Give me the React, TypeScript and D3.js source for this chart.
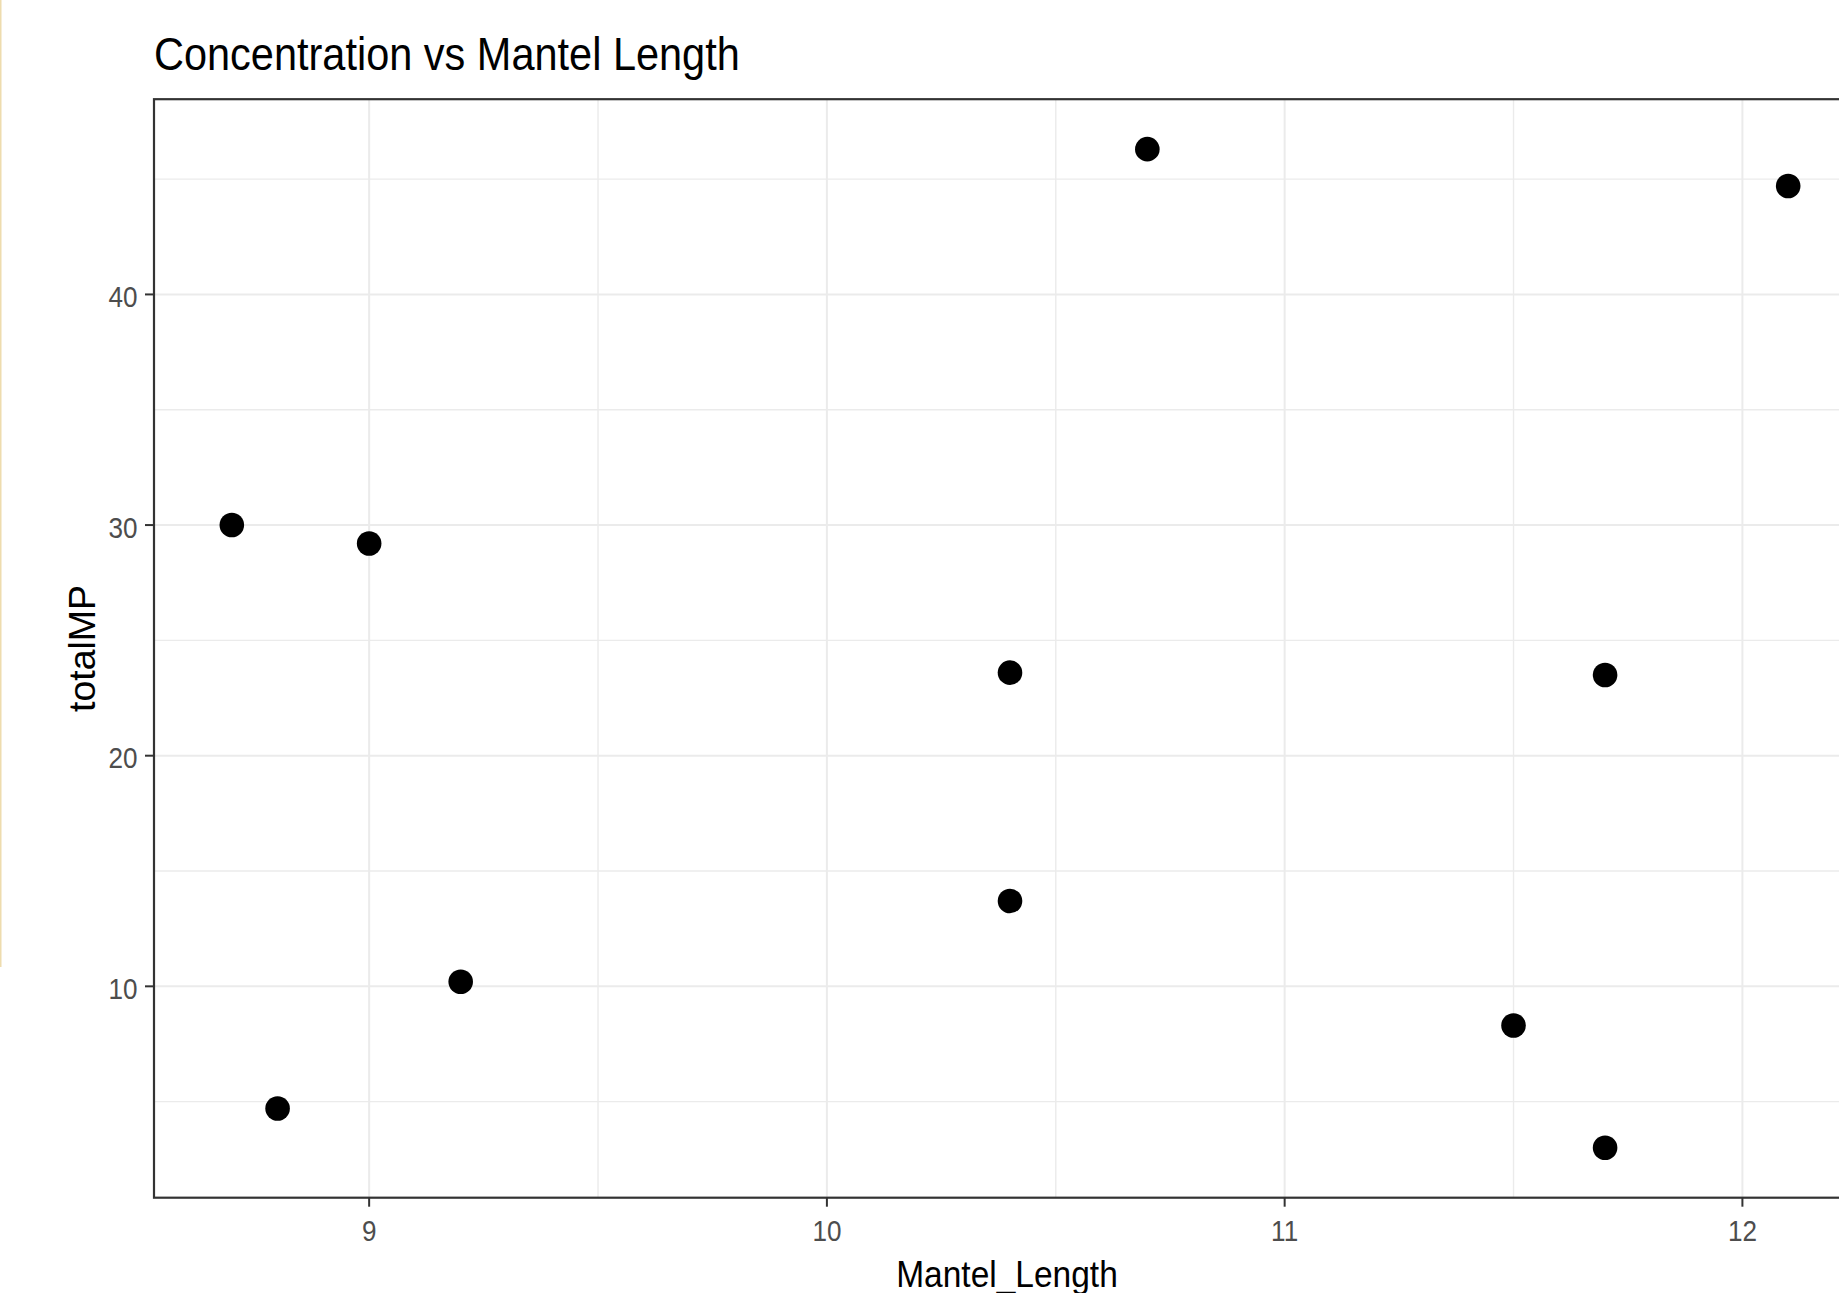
import React from "react";
import * as d3 from "d3";

// Data
const mantelLength = [8.7, 9.0, 8.8, 9.2, 10.4, 10.4, 10.7, 11.5, 11.7, 11.7, 12.1];
const totalMP = [30.0, 29.2, 4.7, 10.2, 23.6, 13.7, 46.3, 8.3, 23.5, 3.0, 44.7];
const xTicks = [9, 10, 11, 12];
const xMinor = [9.5, 10.5, 11.5];
const yTicks = [10, 20, 30, 40];
const yMinor = [5, 15, 25, 35, 45];
const titleText = "Concentration vs Mantel Length";
const xLabel = "Mantel_Length";
const yLabel = "totalMP";

const W = 1839;
const H = 1293;
const FONT = "'Liberation Sans', Arial, Helvetica, sans-serif";

function expand(vals: number[]): [number, number] {
  const mn = d3.min(vals) as number;
  const mx = d3.max(vals) as number;
  const s = mx - mn;
  return [mn - 0.05 * s, mx + 0.05 * s];
}

export default function App() {
  const panel = { left: 154, right: 1866, top: 99.2, bottom: 1197.7 };
  const x = d3.scaleLinear().domain(expand(mantelLength)).range([panel.left, panel.right]);
  const y = d3.scaleLinear().domain(expand(totalMP)).range([panel.bottom, panel.top]);
  const pts = mantelLength.map((v, i) => ({ x: v, y: totalMP[i] }));

  return (
    <svg
      width={W}
      height={H}
      style={{ position: "absolute", left: 0, top: 0, background: "#ffffff" }}
      xmlns="http://www.w3.org/2000/svg"
    >
      <rect x={0} y={0} width={W} height={H} fill="#ffffff" />
      {/* faint left edge line */}
      <rect x={0} y={0} width={1.5} height={967} fill="#eedcae" />

      {/* minor grid */}
      {xMinor.map((t) => (
        <line key={"xm" + t} x1={x(t)} x2={x(t)} y1={panel.top} y2={panel.bottom} stroke="#ebebeb" strokeWidth={1.4} />
      ))}
      {yMinor.map((t) => (
        <line key={"ym" + t} x1={panel.left} x2={panel.right} y1={y(t)} y2={y(t)} stroke="#ebebeb" strokeWidth={1.4} />
      ))}
      {/* major grid */}
      {xTicks.map((t) => (
        <line key={"xg" + t} x1={x(t)} x2={x(t)} y1={panel.top} y2={panel.bottom} stroke="#ebebeb" strokeWidth={2} />
      ))}
      {yTicks.map((t) => (
        <line key={"yg" + t} x1={panel.left} x2={panel.right} y1={y(t)} y2={y(t)} stroke="#ebebeb" strokeWidth={2} />
      ))}

      {/* points */}
      {pts.map((p, i) => (
        <circle key={i} cx={x(p.x)} cy={y(p.y)} r={12.3} fill="#000000" />
      ))}

      {/* panel border */}
      <rect
        x={panel.left}
        y={panel.top}
        width={panel.right - panel.left}
        height={panel.bottom - panel.top}
        fill="none"
        stroke="#333333"
        strokeWidth={2.2}
      />

      {/* x ticks */}
      {xTicks.map((t) => (
        <g key={"xt" + t}>
          <line x1={x(t)} x2={x(t)} y1={panel.bottom} y2={panel.bottom + 9} stroke="#333333" strokeWidth={2} />
          <text
            transform={`translate(${x(t)},${panel.bottom + 43.5}) scale(0.9,1.03)`}
            textAnchor="middle"
            fontFamily={FONT}
            fontSize={29}
            fill="#4d4d4d"
          >
            {t}
          </text>
        </g>
      ))}
      {/* y ticks */}
      {yTicks.map((t) => (
        <g key={"yt" + t}>
          <line x1={panel.left - 9} x2={panel.left} y1={y(t)} y2={y(t)} stroke="#333333" strokeWidth={2} />
          <text
            transform={`translate(${panel.left - 16.5},${y(t) + 12.5}) scale(0.9,1.03)`}
            textAnchor="end"
            fontFamily={FONT}
            fontSize={29}
            fill="#4d4d4d"
          >
            {t}
          </text>
        </g>
      ))}

      {/* axis titles */}
      <text
        transform={`translate(${(panel.left + panel.right) / 2 - 3},1287) scale(1,1.1)`}
        textAnchor="middle"
        fontFamily={FONT}
        fontSize={33.5}
        fill="#000000"
      >
        {xLabel}
      </text>
      <text
        transform={`translate(95,${(panel.top + panel.bottom) / 2}) rotate(-90)`}
        textAnchor="middle"
        fontFamily={FONT}
        fontSize={37.5}
        fill="#000000"
      >
        {yLabel}
      </text>

      {/* plot title */}
      <text
        transform={`translate(${panel.left},70) scale(1,1.1)`}
        fontFamily={FONT}
        fontSize={41.5}
        fill="#000000"
      >
        {titleText}
      </text>
    </svg>
  );
}
